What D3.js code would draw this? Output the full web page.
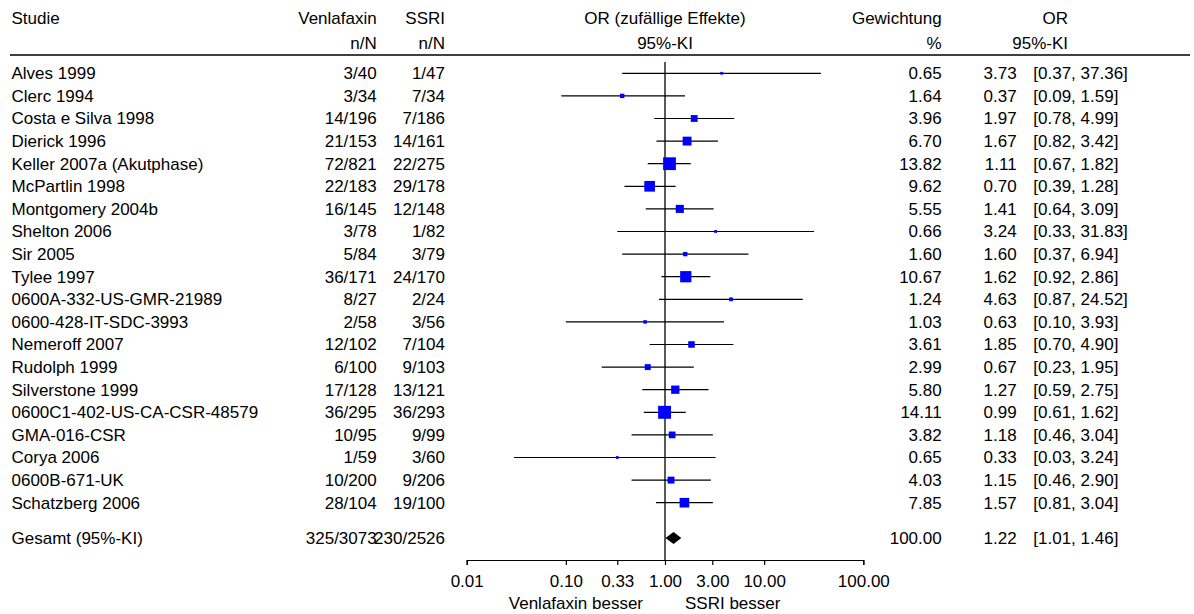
<!DOCTYPE html>
<html><head><meta charset="utf-8">
<script src="https://cdn.jsdelivr.net/npm/d3@7"></script>
<style>body{margin:0;background:#fff}svg{display:block}text{font-family:"Liberation Sans",Arial,sans-serif;font-size:17px;fill:#000}</style>
</head><body>
<script>
const studies = ["Alves 1999","Clerc 1994","Costa e Silva 1998","Dierick 1996","Keller 2007a (Akutphase)","McPartlin 1998","Montgomery 2004b","Shelton 2006","Sir 2005","Tylee 1997","0600A-332-US-GMR-21989","0600-428-IT-SDC-3993","Nemeroff 2007","Rudolph 1999","Silverstone 1999","0600C1-402-US-CA-CSR-48579","GMA-016-CSR","Corya 2006","0600B-671-UK","Schatzberg 2006"];
const venlafaxin = ["3/40","3/34","14/196","21/153","72/821","22/183","16/145","3/78","5/84","36/171","8/27","2/58","12/102","6/100","17/128","36/295","10/95","1/59","10/200","28/104"];
const ssri = ["1/47","7/34","7/186","14/161","22/275","29/178","12/148","1/82","3/79","24/170","2/24","3/56","7/104","9/103","13/121","36/293","9/99","3/60","9/206","19/100"];
const weights = [0.65,1.64,3.96,6.70,13.82,9.62,5.55,0.66,1.60,10.67,1.24,1.03,3.61,2.99,5.80,14.11,3.82,0.65,4.03,7.85];
const orValues = [3.73,0.37,1.97,1.67,1.11,0.70,1.41,3.24,1.60,1.62,4.63,0.63,1.85,0.67,1.27,0.99,1.18,0.33,1.15,1.57];
const ciLower = [0.37,0.09,0.78,0.82,0.67,0.39,0.64,0.33,0.37,0.92,0.87,0.10,0.70,0.23,0.59,0.61,0.46,0.03,0.46,0.81];
const ciUpper = [37.36,1.59,4.99,3.42,1.82,1.28,3.09,31.83,6.94,2.86,24.52,3.93,4.90,1.95,2.75,1.62,3.04,3.24,2.90,3.04];
const total = {label:"Gesamt (95%-KI)", venlafaxin:"325/3073", ssri:"230/2526", weight:100.00, or:1.22, lo:1.01, hi:1.46};
const tickValues = [0.01,0.10,0.33,1.00,3.00,10.00,100.00];

const W=1194,H=614;
const svg=d3.select("body").append("svg").attr("width",W).attr("height",H);
const x=d3.scaleLog().domain([0.01,100]).range([466.7,863.3]);
const y=d3.scaleLinear().domain([0,studies.length-1]).range([73.3,502.7]);
const yTotal=538;
const size=d3.scaleSqrt().domain([0,d3.max(weights)]).range([0,12.9]);

const colStudy=11.5, colV=376.7, colS=445, colW=941.7, colOR=1016.7, colCI=1033.3, colORh=1068;
const f2=d3.format(".2f");

const hdr=svg.append("g");
function t(g,xx,yy,txt,anchor){return g.append("text").attr("x",xx).attr("y",yy).attr("dy","0.35em").attr("text-anchor",anchor||"start").text(txt);}
t(hdr,colStudy,18,"Studie");
t(hdr,colV,18,"Venlafaxin","end");
t(hdr,colV,43,"n/N","end");
t(hdr,colS,18,"SSRI","end");
t(hdr,colS,43,"n/N","end");
t(hdr,x(1),18,"OR (zufällige Effekte)","middle");
t(hdr,x(1),43,"95%-KI","middle");
t(hdr,colW,18,"Gewichtung","end");
t(hdr,colW,43,"%","end");
t(hdr,colORh,18,"OR","end");
t(hdr,colORh,43,"95%-KI","end");
hdr.append("line").attr("x1",10).attr("x2",1190).attr("y1",55).attr("y2",55).attr("stroke","#000").attr("stroke-width",1.5);

svg.append("line").attr("x1",x(1)).attr("x2",x(1)).attr("y1",62).attr("y2",560).attr("stroke","#000").attr("stroke-width",1.3);

const rows=svg.append("g");
studies.forEach((s,i)=>{
  const yy=y(i);
  t(rows,colStudy,yy,s);
  t(rows,colV,yy,venlafaxin[i],"end");
  t(rows,colS,yy,ssri[i],"end");
  t(rows,colW,yy,f2(weights[i]),"end");
  t(rows,colOR,yy,f2(orValues[i]),"end");
  t(rows,colCI,yy,"["+f2(ciLower[i])+", "+f2(ciUpper[i])+"]");
  rows.append("line").attr("x1",x(ciLower[i])).attr("x2",x(ciUpper[i])).attr("y1",yy).attr("y2",yy).attr("stroke","#000").attr("stroke-width",1.2);
  const s2=size(weights[i]);
  rows.append("rect").attr("x",x(orValues[i])-s2/2).attr("y",yy-s2/2).attr("width",s2).attr("height",s2).attr("fill","#0000ff");
});

t(rows,colStudy,yTotal,total.label);
t(rows,colV,yTotal,total.venlafaxin,"end");
t(rows,colS,yTotal,total.ssri,"end");
t(rows,colW,yTotal,f2(total.weight),"end");
t(rows,colOR,yTotal,f2(total.or),"end");
t(rows,colCI,yTotal,"["+f2(total.lo)+", "+f2(total.hi)+"]");
const dh=6;
rows.append("path").attr("d",`M${x(total.lo)},${yTotal}L${x(total.or)},${yTotal-dh}L${x(total.hi)},${yTotal}L${x(total.or)},${yTotal+dh}Z`).attr("fill","#000");

const axisG=svg.append("g").attr("transform","translate(0,560)");
axisG.call(d3.axisBottom(x).tickValues(tickValues).tickFormat(f2).tickSize(5).tickPadding(10));
axisG.select(".domain").attr("stroke","#000").attr("stroke-width",1.2);
axisG.selectAll(".tick line").attr("stroke","#000").attr("stroke-width",1.2);
axisG.selectAll(".tick text").style("font-size","17px").style("font-family",'"Liberation Sans",Arial,sans-serif');
axisG.attr("font-size",null).attr("font-family",null);

t(svg,x(1)-22,603,"Venlafaxin besser","end");
t(svg,x(1)+20,603,"SSRI besser","start");
</script>
</body></html>
